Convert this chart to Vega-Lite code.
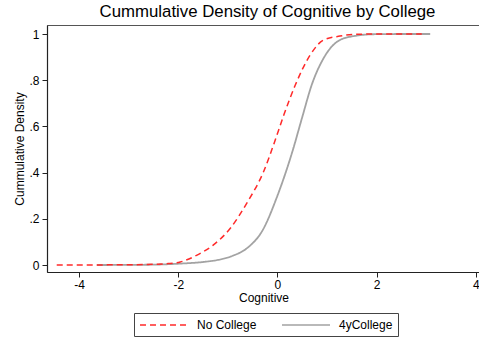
{
  "$schema": "https://vega.github.io/schema/vega-lite/v6.json",
  "autosize": "none",
  "width": 433,
  "height": 247,
  "padding": {"left": 47, "top": 25, "right": 0, "bottom": 67},
  "background": "white",
  "title": {
    "text": "Cummulative Density of Cognitive by College",
    "fontSize": 16.8,
    "fontWeight": "normal",
    "font": "Liberation Sans",
    "color": "black",
    "baseline": "bottom",
    "offset": 4,
    "dx": 4,
    "dy": 17
  },
  "data": {
    "values": [
      {"group": "No College", "cognitive": -4.45, "cdf": 0.0},
      {"group": "No College", "cognitive": -3.5, "cdf": 0.0005},
      {"group": "No College", "cognitive": -3.0, "cdf": 0.001},
      {"group": "No College", "cognitive": -2.5, "cdf": 0.003},
      {"group": "No College", "cognitive": -2.2, "cdf": 0.006},
      {"group": "No College", "cognitive": -1.96, "cdf": 0.013},
      {"group": "No College", "cognitive": -1.62, "cdf": 0.043},
      {"group": "No College", "cognitive": -1.29, "cdf": 0.087},
      {"group": "No College", "cognitive": -0.95, "cdf": 0.159},
      {"group": "No College", "cognitive": -0.62, "cdf": 0.267},
      {"group": "No College", "cognitive": -0.28, "cdf": 0.404},
      {"group": "No College", "cognitive": -0.08, "cdf": 0.519},
      {"group": "No College", "cognitive": 0.13, "cdf": 0.65},
      {"group": "No College", "cognitive": 0.36, "cdf": 0.779},
      {"group": "No College", "cognitive": 0.66, "cdf": 0.909},
      {"group": "No College", "cognitive": 0.93, "cdf": 0.974},
      {"group": "No College", "cognitive": 1.26, "cdf": 0.991},
      {"group": "No College", "cognitive": 1.6, "cdf": 0.999},
      {"group": "No College", "cognitive": 2.0, "cdf": 1.0},
      {"group": "No College", "cognitive": 2.91, "cdf": 1.0},
      {"group": "4yCollege", "cognitive": -3.64, "cdf": 0.0},
      {"group": "4yCollege", "cognitive": -3.0, "cdf": 0.0005},
      {"group": "4yCollege", "cognitive": -2.5, "cdf": 0.0015},
      {"group": "4yCollege", "cognitive": -1.96, "cdf": 0.006},
      {"group": "4yCollege", "cognitive": -1.5, "cdf": 0.013},
      {"group": "4yCollege", "cognitive": -1.2, "cdf": 0.022},
      {"group": "4yCollege", "cognitive": -0.9, "cdf": 0.04},
      {"group": "4yCollege", "cognitive": -0.6, "cdf": 0.075},
      {"group": "4yCollege", "cognitive": -0.3, "cdf": 0.15},
      {"group": "4yCollege", "cognitive": 0.0, "cdf": 0.3},
      {"group": "4yCollege", "cognitive": 0.3, "cdf": 0.49},
      {"group": "4yCollege", "cognitive": 0.5, "cdf": 0.64},
      {"group": "4yCollege", "cognitive": 0.69, "cdf": 0.779},
      {"group": "4yCollege", "cognitive": 0.93, "cdf": 0.895},
      {"group": "4yCollege", "cognitive": 1.26, "cdf": 0.974},
      {"group": "4yCollege", "cognitive": 1.6, "cdf": 0.993},
      {"group": "4yCollege", "cognitive": 1.94, "cdf": 0.999},
      {"group": "4yCollege", "cognitive": 2.5, "cdf": 1.0},
      {"group": "4yCollege", "cognitive": 3.08, "cdf": 1.0}
    ]
  },
  "encoding": {
    "x": {
      "field": "cognitive",
      "type": "quantitative",
      "scale": {"domain": [-4.646, 4.084], "nice": false, "zero": false},
      "axis": {
        "title": "Cognitive",
        "values": [-4, -2, 0, 2, 4],
        "labelExpr": "'' + datum.value",
        "grid": false,
        "tickSize": 5,
        "labelPadding": 2,
        "titlePadding": 2,
        "labelFlush": false
      }
    },
    "y": {
      "field": "cdf",
      "type": "quantitative",
      "scale": {"domain": [-0.0303, 1.039], "nice": false, "zero": false},
      "axis": {
        "title": "Cummulative Density",
        "values": [0, 0.2, 0.4, 0.6, 0.8, 1],
        "labelExpr": "datum.value == 0 ? '0' : datum.value == 1 ? '1' : replace(format(datum.value, '.1f'), '0.', '.')",
        "grid": false,
        "tickSize": 5,
        "labelPadding": 3,
        "titlePadding": 2,
        "labelFlush": false
      }
    },
    "color": {
      "field": "group",
      "type": "nominal",
      "scale": {"domain": ["No College", "4yCollege"], "range": ["#ff2a2a", "#a3a3a3"]},
      "legend": {
        "title": null,
        "orient": "none",
        "direction": "horizontal",
        "legendX": 87,
        "legendY": 288,
        "symbolType": "M-4,0H4",
        "symbolSize": 144,
        "symbolOffset": 18,
        "symbolStrokeWidth": 1.5,
        "labelFontSize": 12,
        "labelFont": "Liberation Sans",
        "labelColor": "black",
        "labelOffset": 26,
        "columnPadding": 22,
        "padding": 5,
        "strokeColor": "#444",
        "fillColor": "white"
      }
    },
    "strokeDash": {
      "field": "group",
      "type": "nominal",
      "scale": {"domain": ["No College", "4yCollege"], "range": [[6, 4], [1, 0]]},
      "legend": {
        "title": null,
        "orient": "none",
        "direction": "horizontal",
        "legendX": 87,
        "legendY": 288,
        "symbolType": "M-4,0H4",
        "symbolSize": 144,
        "symbolOffset": 18,
        "symbolStrokeWidth": 1.5,
        "labelFontSize": 12,
        "labelFont": "Liberation Sans",
        "labelColor": "black",
        "labelOffset": 26,
        "columnPadding": 22,
        "padding": 5,
        "strokeColor": "#444",
        "fillColor": "white"
      }
    }
  },
  "layer": [
    {
      "transform": [{"filter": "datum.group == '4yCollege'"}],
      "mark": {"type": "line", "interpolate": "monotone", "strokeWidth": 1.8}
    },
    {
      "transform": [{"filter": "datum.group == 'No College'"}],
      "mark": {"type": "line", "interpolate": "monotone", "strokeWidth": 1.5}
    }
  ],
  "config": {
    "font": "Liberation Sans",
    "view": {"stroke": "#555", "strokeWidth": 1},
    "axis": {
      "domainColor": "#222",
      "domainWidth": 1.2,
      "tickColor": "#222",
      "labelColor": "black",
      "titleColor": "black",
      "labelFontSize": 12,
      "titleFontSize": 12,
      "titleFontWeight": "normal",
      "labelFont": "Liberation Sans",
      "titleFont": "Liberation Sans"
    }
  }
}
